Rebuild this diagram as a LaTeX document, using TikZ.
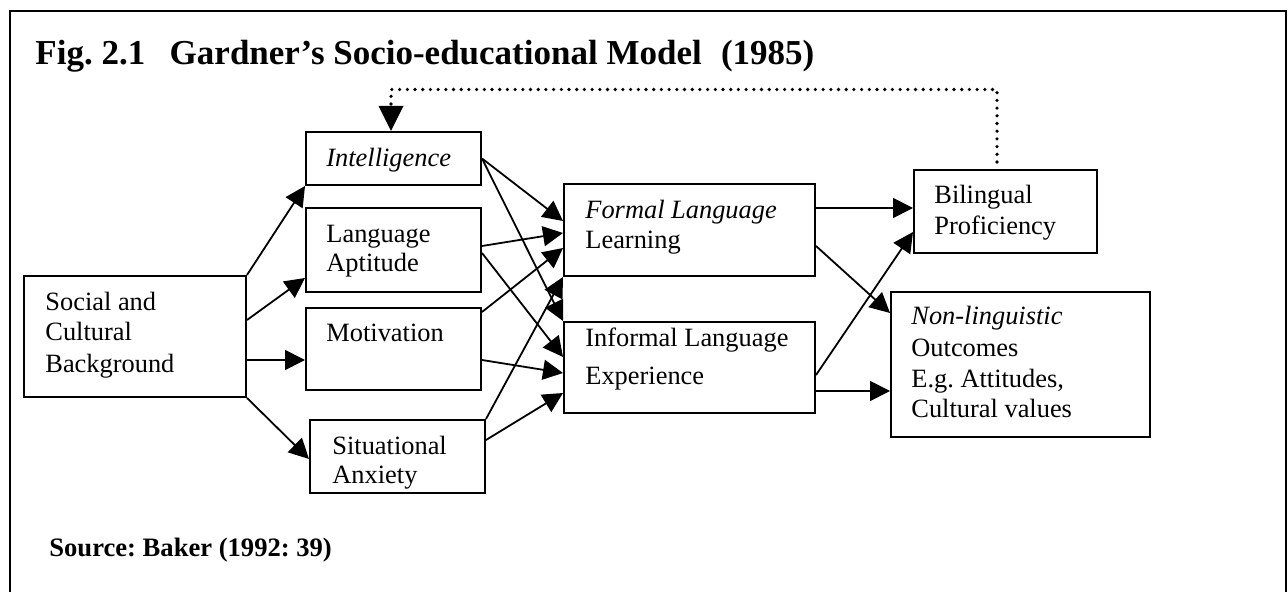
\documentclass[tikz,border=0pt]{standalone}
\usepackage{fontspec}
\setmainfont{Liberation Serif}
\usetikzlibrary{arrows.meta,calc}
\frenchspacing
\begin{document}
\begin{tikzpicture}[x=0.5pt,y=-0.5pt,
  box/.style={draw, line width=1pt, inner sep=0pt, rectangle},
  lbl/.style={anchor=base west, inner sep=0pt, font=\fontsize{13.2}{15}\selectfont},
  link/.style={line width=0.9pt, -{Triangle[length=10pt,width=10pt]}},
  fb/.style={line width=1.8pt, line cap=round, dash pattern=on 0pt off 3.85pt,
             -{Triangle[length=12.5pt,width=12pt]}},
]
\useasboundingbox (0,0) rectangle (1288,592);
% frame open at the bottom
\draw[line width=1.3pt] (10,592) -- (10,11) -- (1286,11) -- (1286,592);

% heading and source
\node[anchor=base west, inner sep=0pt, font=\fontsize{17.5}{20}\selectfont\bfseries] (title) at (35,65)
  {Fig. 2.1\hspace{0.7em}Gardner’s Socio-educational Model\hspace{0.55em}(1985)};
\node[anchor=base west, inner sep=0pt, font=\fontsize{13.3}{15}\selectfont\bfseries] (src) at (49,556)
  {Source: Baker (1992: 39)};

% boxes
\node[box, minimum width=111pt,   minimum height=60.5pt] (soc)    at (135,336.5)  {};
\node[box, minimum width=87.5pt,  minimum height=26.5pt] (intl)   at (393.5,158.5) {};
\node[box, minimum width=87.5pt,  minimum height=42pt]   (apt)    at (393.5,250)  {};
\node[box, minimum width=87.5pt,  minimum height=41pt]   (mot)    at (393.5,349)  {};
\node[box, minimum width=87.5pt,  minimum height=36.5pt] (sit)    at (397.5,456.5) {};
\node[box, minimum width=125.5pt, minimum height=46pt]   (formal) at (689.5,230)  {};
\node[box, minimum width=125.5pt, minimum height=45.5pt] (inf)    at (689.5,367.5) {};
\node[box, minimum width=91.5pt,  minimum height=41.5pt] (bil)    at (1005.5,211.5) {};
\node[box, minimum width=129.5pt, minimum height=72.5pt] (non)    at (1020.5,364.5) {};

% box texts
\node[lbl] (soc1) at (45,311) {Social and};
\node[lbl] (soc2) at (45,341) {Cultural};
\node[lbl] (soc3) at (45,372) {Background};
\node[lbl] (intl1) at (326,167) {\itshape Intelligence};
\node[lbl] (apt1) at (326,243) {Language};
\node[lbl] (apt2) at (326,272) {Aptitude};
\node[lbl] (mot1) at (326,342) {Motivation};
\node[lbl] (sit1) at (332,454) {Situational};
\node[lbl] (sit2) at (332,483) {Anxiety};
\node[lbl] (formal1) at (585,219) {\itshape Formal Language};
\node[lbl] (formal2) at (585,249) {Learning};
\node[lbl] (inf1) at (585,347) {Informal Language};
\node[lbl] (inf2) at (585,385) {Experience};
\node[lbl] (bil1) at (934,204) {Bilingual};
\node[lbl] (bil2) at (934,235) {Proficiency};
\node[lbl] (non1) at (911,325) {\itshape Non-linguistic};
\node[lbl] (non2) at (911,357) {Outcomes};
\node[lbl] (non3) at (911,388) {E.g. Attitudes,};
\node[lbl] (non4) at (911,417) {Cultural values};

% background to the four factors
\draw[link] (soc.north east) -- (intl.south west);
\draw[link] ([yshift=8.25pt]soc.east) -- ([yshift=7.5pt]apt.south west);
\coordinate (s3) at ([yshift=-11.75pt]soc.east);
\draw[link] (s3) -- (s3 -| mot.west);
\draw[link] (soc.south east) -- ([yshift=-1.25pt]sit.west);

% factors to the two learning contexts
\draw[link] (intl.east) -- ([yshift=4.5pt]formal.west);
\draw[link] (intl.east) -- (inf.north west);
\draw[link] ([yshift=2pt]apt.east) -- ([yshift=-1.5pt]formal.west);
\draw[link] ([yshift=-1.5pt]apt.east) -- ([yshift=5.25pt]inf.west);
\draw[link] ([yshift=-2.5pt]mot.north east) -- ([yshift=-9pt]formal.west);
\draw[link] ([yshift=-5.5pt]mot.east) -- ([yshift=-2.75pt]inf.west);
\draw[link] (sit.north east) -- (formal.south west);
\draw[link] ([yshift=8.25pt]sit.east) -- ([yshift=-12.75pt]inf.west);

% contexts to outcomes
\coordinate (f1) at ([yshift=11pt]formal.east);
\draw[link] (f1) -- (f1 -| bil.west);
\draw[link] ([yshift=-8pt]formal.east) -- ([yshift=25.75pt]non.west);
\draw[link] ([yshift=-3.75pt]inf.east) -- ([yshift=-10.25pt]bil.west);
\coordinate (i2) at ([yshift=-11.75pt]inf.east);
\draw[link] (i2) -- (i2 -| non.west);

% feedback from proficiency to intelligence
\coordinate (fbstart) at ([shift={(-4.25pt,3.5pt)}]bil.north);
\coordinate (fbtop) at (0,89.5);
\draw[fb] (fbstart) -- (fbstart |- fbtop) -| ([xshift=-1.25pt]intl.north);
\end{tikzpicture}
\end{document}
